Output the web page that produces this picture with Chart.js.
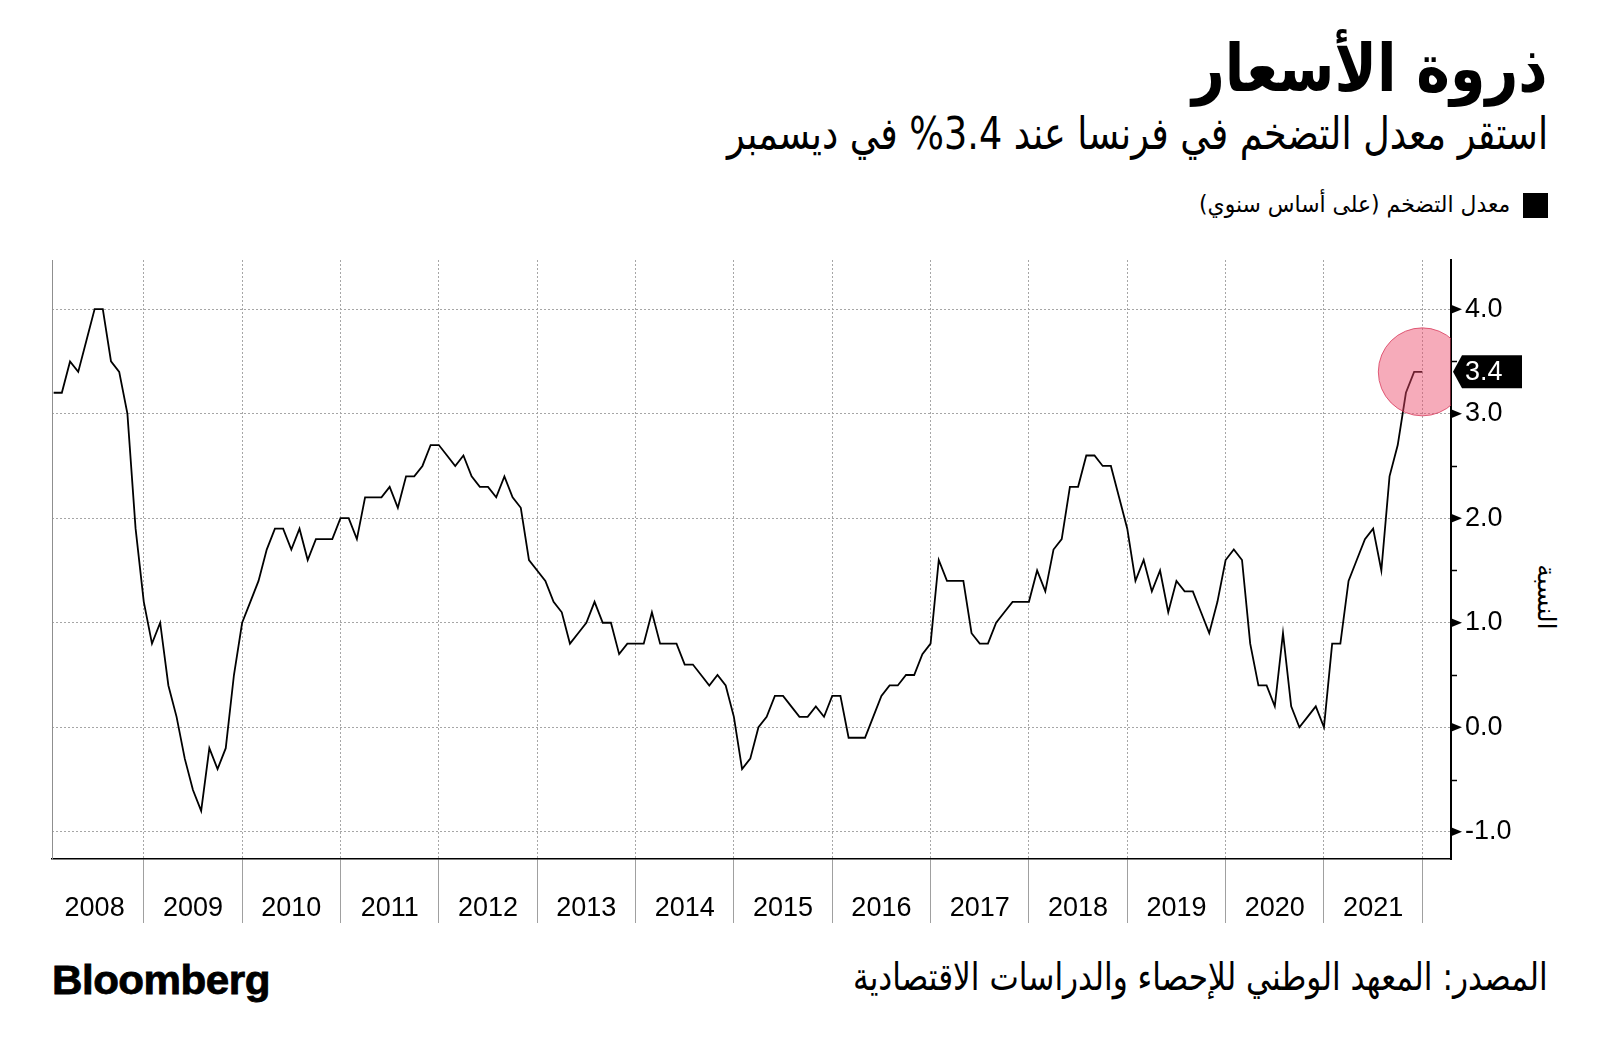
<!DOCTYPE html>
<html lang="ar">
<head>
<meta charset="utf-8">
<title>ذروة الأسعار</title>
<script src="https://cdn.jsdelivr.net/npm/chart.js@4.4.1/dist/chart.umd.min.js"></script>
<style>
  html, body { margin: 0; padding: 0; background: #fff; }
  body { width: 1600px; height: 1058px; position: relative; overflow: hidden;
         font-family: "DejaVu Sans", sans-serif; color: #000; }
  .ar { position: absolute; direction: rtl; white-space: nowrap; line-height: 1;
        transform-origin: right center; }
  #title { right: 52px; top: 36px; font-size: 66px; font-weight: bold; }
  #subtitle { right: 52px; top: 111px; font-size: 45px; }
  #legendText { right: 90px; top: 193px; font-size: 23px; }
  #swatch { position: absolute; left: 1523px; top: 193px; width: 25px; height: 25px; background: #000; }
  #source { right: 52px; top: 958px; font-size: 38px; }
  #logo { position: absolute; left: 52px; top: 960px; font-family: "Liberation Sans", sans-serif;
          font-weight: bold; font-size: 41px; line-height: 1; letter-spacing: -0.5px;
          -webkit-text-stroke: 0.8px #000; transform-origin: left center; white-space: nowrap; }
  #yTitle { position: absolute; left: 1546px; top: 597px; font-size: 25px; line-height: 1;
            direction: rtl; white-space: nowrap; transform: translate(-50%, -50%) rotate(90deg); }
  #chartBox { position: absolute; left: 0; top: 215px; width: 1600px; height: 725px; }
</style>
</head>
<body>
<div id="title" class="ar" data-w="356">ذروة الأسعار</div>
<div id="subtitle" class="ar" data-w="821">استقر معدل التضخم في فرنسا عند 3.4% في ديسمبر</div>
<div id="swatch"></div>
<div id="legendText" class="ar" data-w="311">معدل التضخم (على أساس سنوي)</div>
<div id="yTitle">النسبة</div>
<div id="chartBox"><canvas id="chart"></canvas></div>
<div id="source" class="ar" data-w="695">المصدر: المعهد الوطني للإحصاء والدراسات الاقتصادية</div>
<div id="logo" data-w="218">Bloomberg</div>

<script>
"use strict";

// monthly inflation, % year on year, Jan..Dec
const years = [2008, 2009, 2010, 2011, 2012, 2013, 2014, 2015, 2016, 2017, 2018, 2019, 2020, 2021];
const v2008 = [3.2, 3.2, 3.5, 3.4, 3.7, 4.0, 4.0, 3.5, 3.4, 3.0, 1.9, 1.2];
const v2009 = [0.8, 1.0, 0.4, 0.1, -0.3, -0.6, -0.8, -0.2, -0.4, -0.2, 0.5, 1.0];
const v2010 = [1.2, 1.4, 1.7, 1.9, 1.9, 1.7, 1.9, 1.6, 1.8, 1.8, 1.8, 2.0];
const v2011 = [2.0, 1.8, 2.2, 2.2, 2.2, 2.3, 2.1, 2.4, 2.4, 2.5, 2.7, 2.7];
const v2012 = [2.6, 2.5, 2.6, 2.4, 2.3, 2.3, 2.2, 2.4, 2.2, 2.1, 1.6, 1.5];
const v2013 = [1.4, 1.2, 1.1, 0.8, 0.9, 1.0, 1.2, 1.0, 1.0, 0.7, 0.8, 0.8];
const v2014 = [0.8, 1.1, 0.8, 0.8, 0.8, 0.6, 0.6, 0.5, 0.4, 0.5, 0.4, 0.1];
const v2015 = [-0.4, -0.3, 0.0, 0.1, 0.3, 0.3, 0.2, 0.1, 0.1, 0.2, 0.1, 0.3];
const v2016 = [0.3, -0.1, -0.1, -0.1, 0.1, 0.3, 0.4, 0.4, 0.5, 0.5, 0.7, 0.8];
const v2017 = [1.6, 1.4, 1.4, 1.4, 0.9, 0.8, 0.8, 1.0, 1.1, 1.2, 1.2, 1.2];
const v2018 = [1.5, 1.3, 1.7, 1.8, 2.3, 2.3, 2.6, 2.6, 2.5, 2.5, 2.2, 1.9];
const v2019 = [1.4, 1.6, 1.3, 1.5, 1.1, 1.4, 1.3, 1.3, 1.1, 0.9, 1.2, 1.6];
const v2020 = [1.7, 1.6, 0.8, 0.4, 0.4, 0.2, 0.9, 0.2, 0.0, 0.1, 0.2, 0.0];
const v2021 = [0.8, 0.8, 1.4, 1.6, 1.8, 1.9, 1.5, 2.4, 2.7, 3.2, 3.4, 3.4];

const yTickLabels = [-1, 0, 1, 2, 3, 4];
const yMinorTicks = [-0.5, 0.5, 1.5, 2.5, 3.5];

const yearly = [v2008, v2009, v2010, v2011, v2012, v2013, v2014, v2015, v2016, v2017, v2018, v2019, v2020, v2021];
const inflation = yearly.flat();
const points = inflation.map((v, i) => ({x: i, y: v}));
const lastIdx = inflation.length - 1;
const lastValue = inflation[lastIdx];

// december of each year = divider, middle of the year = label
const yearEnds = years.map((y, i) => i * 12 + 11);
const yearMids = years.map((y, i) => i * 12 + 5);

// squeeze the headline texts to the width they have in the original
document.querySelectorAll('[data-w]').forEach(el => {
  const w = el.offsetWidth;
  el.style.transform = 'scaleX(' + (Number(el.dataset.w) / w) + ')';
});

Chart.defaults.font.family = '"Liberation Sans", sans-serif';
Chart.defaults.color = '#000';

const axisMarks = {
  id: 'axisMarks',
  afterDraw(chart) {
    const {ctx} = chart;
    const y = chart.scales.y;
    const x0 = y.left;
    ctx.save();
    ctx.fillStyle = '#000';
    ctx.strokeStyle = '#000';
    ctx.lineWidth = 1.5;
    yTickLabels.forEach(v => {
      const p = y.getPixelForValue(v);
      ctx.beginPath();
      ctx.moveTo(x0, p - 4.5);
      ctx.lineTo(x0 + 11, p);
      ctx.lineTo(x0, p + 4.5);
      ctx.closePath();
      ctx.fill();
    });
    yMinorTicks.forEach(v => {
      const p = Math.round(y.getPixelForValue(v)) + 0.5;
      ctx.beginPath();
      ctx.moveTo(x0, p);
      ctx.lineTo(x0 + 6, p);
      ctx.stroke();
    });

    // value callout for the last month
    const py = y.getPixelForValue(lastValue);
    const bx = x0 + 2;
    ctx.beginPath();
    ctx.moveTo(bx, py);
    ctx.lineTo(bx + 9, py - 16.5);
    ctx.lineTo(bx + 69, py - 16.5);
    ctx.lineTo(bx + 69, py + 16.5);
    ctx.lineTo(bx + 9, py + 16.5);
    ctx.closePath();
    ctx.fill();
    ctx.fillStyle = '#fff';
    ctx.font = '27px "Liberation Sans"';
    ctx.textBaseline = 'middle';
    ctx.textAlign = 'left';
    ctx.fillText(lastValue.toFixed(1), bx + 12, py + 1);
    ctx.restore();
  }
};

new Chart(document.getElementById('chart'), {
  type: 'line',
  data: {
    datasets: [
      {
        label: 'highlight',
        data: [{x: lastIdx, y: lastValue}],
        showLine: false,
        pointRadius: 44,
        pointHoverRadius: 44,
        pointBackgroundColor: 'rgba(236, 72, 104, 0.46)',
        pointBorderColor: 'rgba(214, 50, 84, 0.75)',
        pointBorderWidth: 1,
        clip: 0,
        order: 0
      },
      {
        label: 'معدل التضخم (على أساس سنوي)',
        data: points,
        borderColor: '#000',
        borderWidth: 1.8,
        pointRadius: 0,
        tension: 0,
        order: 1
      }
    ]
  },
  options: {
    responsive: true,
    maintainAspectRatio: false,
    animation: false,
    devicePixelRatio: 1,
    // top padding is forced to ~45 by the big highlight point anyway
    layout: { padding: { left: 52, right: 20, top: 45, bottom: 11 } },
    plugins: {
      legend: { display: false },
      tooltip: { enabled: false }
    },
    scales: {
      x: {
        type: 'linear',
        min: -0.2,
        max: 170.5,
        afterBuildTicks: s => {
          s.ticks = yearEnds.concat(yearMids).sort((a, b) => a - b).map(v => ({value: v}));
        },
        afterFit: s => { s.height = 70; },
        ticks: {
          autoSkip: false,
          maxRotation: 0,
          padding: -31,
          font: { size: 27 },
          callback: v => {
            const i = yearMids.indexOf(v);
            return i >= 0 ? String(years[i]) : '';
          }
        },
        grid: {
          color: c => yearEnds.includes(c.tick && c.tick.value) ? '#a6a6a6' : 'rgba(0,0,0,0)',
          tickColor: c => yearEnds.includes(c.tick && c.tick.value) ? '#a0a0a0' : 'rgba(0,0,0,0)',
          lineWidth: 1,
          tickLength: 64
        },
        border: { color: '#000', width: 1.5, dash: [2, 2] }
      },
      y: {
        position: 'right',
        min: -1.26,
        max: 4.47,
        afterBuildTicks: s => {
          s.ticks = yTickLabels.concat(yMinorTicks).sort((a, b) => a - b).map(v => ({value: v}));
        },
        afterFit: s => { s.width = 129; },
        ticks: {
          padding: 3,
          font: { size: 27 },
          callback: v => Number.isInteger(v) ? v.toFixed(1) : ''
        },
        grid: {
          color: c => Number.isInteger(c.tick && c.tick.value) ? '#a6a6a6' : 'rgba(0,0,0,0)',
          tickColor: 'rgba(0,0,0,0)',
          tickLength: 11,
          lineWidth: 1
        },
        border: { color: '#000', width: 2, dash: [2, 2] }
      },
      yl: {
        position: 'left',
        min: -1.26,
        max: 4.47,
        afterFit: s => { s.width = 0; },
        ticks: { display: false },
        grid: { display: false, drawTicks: false },
        border: { display: true, color: '#8f8f8f', width: 1 }
      }
    }
  },
  plugins: [axisMarks]
});
</script>
</body>
</html>
